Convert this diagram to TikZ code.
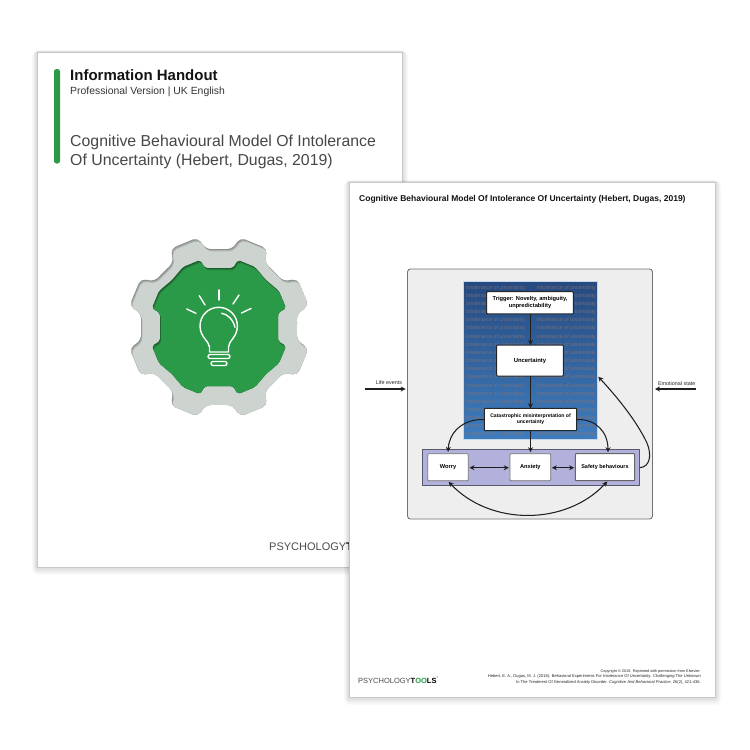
\documentclass[tikz,border=0pt]{standalone}
\usepackage{fontspec}
\setmainfont{Liberation Sans}
\usetikzlibrary{arrows.meta,calc,shadings}
\definecolor{gogreen}{HTML}{2B9A48}
\definecolor{gearcol}{HTML}{CDD3CF}
\definecolor{bluetop}{HTML}{264A80}
\definecolor{bluebot}{HTML}{3F7DBE}
\definecolor{purplecol}{HTML}{B1B1DB}
\definecolor{fillertext}{HTML}{8C7470}
\newcommand{\fs}[1]{\fontsize{#1}{#1}\selectfont}
\newcommand{\gearoutline}{(0:78) \foreach \k in {0,...,7} {
  -- ({22.5+45*\k-13}:79) -- ({22.5+45*\k-9}:92) -- ({22.5+45*\k+9}:92) -- ({22.5+45*\k+13}:79) -- ({22.5+45*\k+22.5}:78)
} -- cycle}
\newcommand{\greenoutline}{(59,0) -- (59,14) -- (67,19) -- (60,36) -- (47,47) -- (36,60) -- (19,67) -- (14,59)
 -- (0,59) -- (-14,59) -- (-19,67) -- (-36,60) -- (-47,47) -- (-60,36) -- (-67,19) -- (-59,14)
 -- (-59,0) -- (-59,-14) -- (-67,-19) -- (-60,-36) -- (-47,-47) -- (-36,-60) -- (-19,-67) -- (-14,-59)
 -- (0,-59) -- (14,-59) -- (19,-67) -- (36,-60) -- (47,-47) -- (60,-36) -- (67,-19) -- (59,-14) -- cycle}
\newcommand{\pageshadow}[4]{%
  \foreach \d in {1,...,6} {
    \fill[black,opacity=0.022,rounded corners=\d pt] ($(#1,#2)+(-\d*0.8,-\d*0.3)$) rectangle ($(#3,#4)+(\d*1.0,\d*1.3)$);
  }}
\tikzset{
  x=1pt,y=-1pt,
  page/.style={fill=white,draw=black!22,line width=0.8pt},
  boxa/.style={draw=black!85,fill=white,line width=1pt,rounded corners=0.8pt,align=center,inner sep=0pt,font=\fs{5.7}\bfseries},
  boxb/.style={draw=black!55,fill=white,line width=0.8pt,rounded corners=1pt,align=center,inner sep=0pt,font=\fs{5.7}\bfseries},
  flow/.style={-{Stealth[length=5pt,width=5pt]},line width=1.05pt,black!88},
  flowb/.style={{Stealth[length=5pt,width=5pt]}-{Stealth[length=5pt,width=5pt]},line width=1.05pt,black!88},
  side/.style={font=\fs{5.4},inner sep=0pt,black!85},
  filler/.style={font=\fs{5.25},inner sep=0pt,anchor=base west,text=fillertext,text opacity=0.8},
  bulb/.style={draw=white,line width=1.4pt,line cap=round,line join=round},
}
\begin{document}
\begin{tikzpicture}
\useasboundingbox (0,0) rectangle (750,750);
\fill[white] (0,0) rectangle (750,750);
% ---------- page 1
\pageshadow{37}{52}{402}{567}
\fill[page] (37,52) rectangle (402,567);
\fill[gogreen,rounded corners=2.5pt] (54,69) rectangle (60,163.5);
\node[anchor=base west,inner sep=0pt,font=\fs{15}\bfseries,text=black!92] (t1) at (70,80) {Information Handout};
\node[anchor=base west,inner sep=0pt,font=\fs{10.4},text=black!80] (t2) at (70,94) {Professional Version | UK English};
\node[anchor=base west,inner sep=0pt,font=\fs{15.85},text=black!72] (t3) at (70,146) {Cognitive Behavioural Model Of Intolerance};
\node[anchor=base west,inner sep=0pt,font=\fs{15.85},text=black!72] (t4) at (70,165) {Of Uncertainty (Hebert, Dugas, 2019)};
% gear
\begin{scope}[shift={(219,327)}]
  \fill[black!32!gearcol,rounded corners=5pt] \gearoutline;
  \begin{scope}
    \clip[rounded corners=5pt] \gearoutline;
    \fill[black!16!gearcol,rounded corners=5pt,shift={(0.7,1.1)}] \gearoutline;
    \fill[gearcol,rounded corners=5pt,shift={(1.4,2.4)}] \gearoutline;
  \end{scope}
  \fill[black!40!gogreen,rounded corners=2pt] \greenoutline;
  \begin{scope}
    \clip[rounded corners=2pt] \greenoutline;
    \fill[black!18!gogreen,rounded corners=2pt,shift={(0.6,1.2)}] \greenoutline;
    \fill[gogreen,rounded corners=2pt,shift={(1.2,2.4)}] \greenoutline;
  \end{scope}
  % bulb
  \draw[bulb] (-9.5,25) -- (-9.5,20) .. controls (-10,14) and (-19,10) .. (-19,-1) arc[start angle=180,end angle=360,radius=18.7] .. controls (18.4,10) and (9.5,14) .. (9.5,20) -- (9.5,25) -- cycle;
  \draw[bulb,rounded corners=2pt] (-11,27.5) -- (11,27.5) -- (11,31.5) -- (-11,31.5) -- cycle;
  \draw[bulb,rounded corners=2pt] (-8,34.5) -- (8,34.5) -- (8,38.5) -- (-8,38.5) -- cycle;
  \draw[bulb] (2.7,-13.7) .. controls (8,-13) and (14,-8) .. (16,0.3);
  \draw[bulb] (0,-37) -- (0,-27);
  \draw[bulb] (-19.7,-31.3) -- (-14,-22);
  \draw[bulb] (20,-32) -- (14,-23);
  \draw[bulb] (-32.3,-18) -- (-23,-13.7);
  \draw[bulb] (32,-18.5) -- (22.5,-14);
\end{scope}
% logo page 1
\node[anchor=base west,inner sep=0pt,font=\fs{11},text=black!70] (logoa) at (269,550) {PSYCHOLOGY\textcolor{black}{\textbf{TOOLS}}};
% ---------- page 2
\pageshadow{349}{182}{715}{697}
\fill[page] (349,182) rectangle (715,697);
\node[anchor=base west,inner sep=0pt,font=\fs{8.5}\bfseries,text=black!92] (head) at (359,201) {Cognitive Behavioural Model Of Intolerance Of Uncertainty (Hebert, Dugas, 2019)};
% panel
\draw[draw=black!55,fill=black!6.5,line width=0.9pt,rounded corners=3pt] (407.5,269) rectangle (652.5,519);
\shade[top color=bluetop,bottom color=bluebot] (463.5,281.7) rectangle (597.7,439.3);
\draw[white!70!bluebot,line width=0.5pt] (463.5,281.7) rectangle (597.7,439.3);
\foreach \r in {0,...,18} {
  \node[filler] at (466,{289.2+8.15*\r}) {Intolerance of uncertainty};
  \node[filler] at (536.7,{289.2+8.15*\r}) {Intolerance of uncertainty};
}
\draw[draw=black!50!purplecol,fill=purplecol,line width=0.8pt] (422.3,449.7) rectangle (639.7,485.3);
% nodes
\node[boxa,minimum width=86.6pt,minimum height=22.3pt] (trig) at (530,302.8) {Trigger: Novelty, ambiguity,\\[1pt]unpredictability};
\node[boxa,font=\fs{5.9}\bfseries,minimum width=66.6pt,minimum height=31pt] (unc) at (530,360.5) {Uncertainty};
\node[boxa,font=\fs{5.1}\bfseries,minimum width=92.4pt,minimum height=22.4pt] (cat) at (530.5,419.5) {Catastrophic misinterpretation of\\[1pt]uncertainty};
\node[boxb,minimum width=40.6pt,minimum height=27pt] (wor) at (448,467.2) {Worry};
\node[boxb,minimum width=40.7pt,minimum height=27pt] (anx) at (530.3,467.2) {Anxiety};
\node[boxa,font=\fs{5.5}\bfseries,draw=black!60,minimum width=59.4pt,minimum height=27pt] (saf) at (605,467.2) {Safety behaviours};
\coordinate (safn) at (608,453.7);
\coordinate (safs) at (608,480.7);
\coordinate (blue) at (598.3,376.7);
\coordinate (purp) at (639.7,467.7);
\coordinate (trigs) at (530.5,314);
\coordinate (uncn) at (530.5,345);
\coordinate (uncs) at (530.5,376);
\coordinate (catn) at (530.5,408.3);
\coordinate (cats) at (530.5,430.7);
\coordinate (anxn) at (530.5,453.7);
\coordinate (wore) at (468.3,467.7);
\coordinate (anxw) at (510,467.7);
\coordinate (anxe) at (550.7,467.7);
\coordinate (safw) at (575.3,467.7);
% connectors
\draw[flow] (trigs) -- (uncn);
\draw[flow] (uncs) -- (catn);
\draw[flow,shorten >=1.5pt] (cats) -- (anxn);
\draw[flow,shorten >=1.5pt] (cat.west) .. controls (462,419) and (449,433) .. (wor.north);
\draw[flow,shorten >=1.5pt] (cat.east) .. controls (596,419) and (608,432) .. (safn);
\draw[flowb,shorten <=1.2pt,shorten >=1.2pt] (wore) -- (anxw);
\draw[flowb,shorten <=1.2pt,shorten >=1.2pt] (anxe) -- (safw);
\draw[flowb,shorten <=1pt,shorten >=1pt] (wor.south) .. controls (490,526) and (566,526) .. (safs);
\draw[flow] (purp) .. controls (650,467) and (652,455) .. (647,443) .. controls (636,420) and (617,397) .. (blue);
% side labels
\coordinate (lifes) at (365,389);
\coordinate (panw) at (405.7,389);
\coordinate (emos) at (695.7,389);
\coordinate (pane) at (655,389);
\draw[flow] (lifes) -- (panw);
\draw[flow] (emos) -- (pane);
\node[side] (life) at (389,382.7) {Life events};
\node[side] (emo) at (676.7,383.3) {Emotional state};
% footer
\node[anchor=base east,inner sep=0pt,font=\fs{3.8},text=black!85] (f1) at (701,672.3) {Copyright © 2019. Reprinted with permission from Elsevier:};
\node[anchor=base east,inner sep=0pt,font=\fs{4.07},text=black!85] (f2) at (701,677.6) {Hebert, E. A., Dugas, M. J. (2018). Behavioral Experiments For Intolerance Of Uncertainty: Challenging The Unknown};
\node[anchor=base east,inner sep=0pt,font=\fs{4.07},text=black!85] (f3) at (701,683) {In The Treatment Of Generalized Anxiety Disorder. \textit{Cognitive And Behavioral Practice}, 26(2), 421-436.};
\node[anchor=base west,inner sep=0pt,font=\fs{7.5},text=black!70] (logob) at (358,683) {PSYCHOLOGY\textcolor{black}{\textbf{T}}\textcolor{gogreen}{\textbf{OO}}\textcolor{black}{\textbf{LS}}\textsuperscript{\fs{4}*}};
\end{tikzpicture}
\end{document}
